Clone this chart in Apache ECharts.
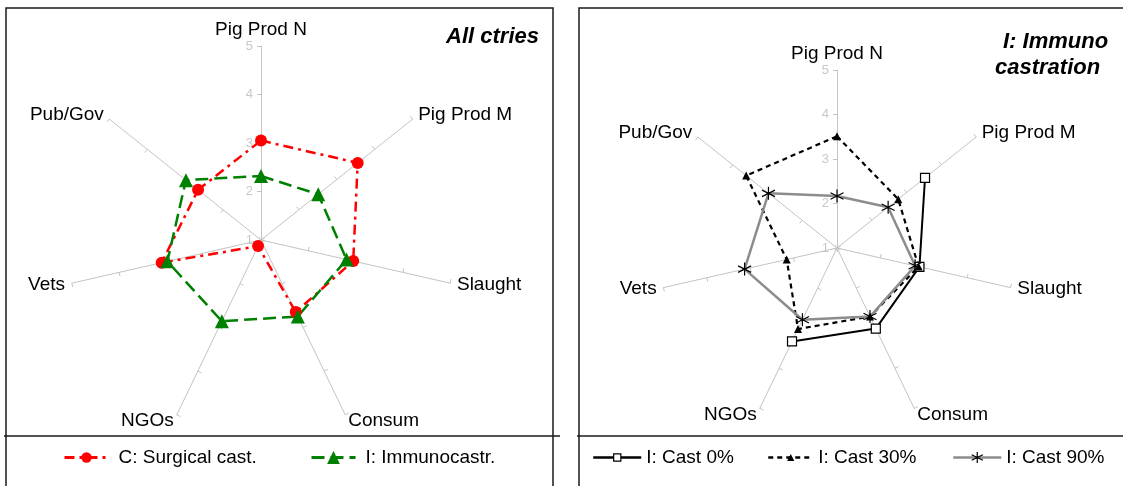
<!DOCTYPE html>
<html>
<head>
<meta charset="utf-8">
<script src="https://cdn.jsdelivr.net/npm/echarts@6/dist/echarts.min.js"></script>
<style>
  html, body { margin: 0; padding: 0; background: #fff; }
  #chart { width: 1123px; height: 486px; }
</style>
</head>
<body>
<div id="chart"></div>
<script>
// Stakeholder groups, clockwise from the top
const axisNames = ['Pig Prod N', 'Pig Prod M', 'Slaught', 'Consum', 'NGOs', 'Vets', 'Pub/Gov'];
// Score scale shown on the first spoke
const scaleTicks = [1, 2, 3, 4, 5];

// All countries
const surgicalCast = [3.05, 3.55, 2.95, 2.65, 1.14, 3.10, 2.66];
const immunoCastr  = [2.32, 2.51, 2.81, 2.75, 2.86, 2.98, 2.98];

// Immunocastration scenarios (null = no score)
const cast0  = [null, 3.53, 2.90, 3.01, 3.33, null, null];
const cast30 = [3.51, 2.76, 2.88, 2.71, 3.02, 2.16, 3.61];
const cast90 = [2.17, 2.47, 2.80, 2.71, 2.79, 3.13, 2.97];

const FONT = '"Liberation Sans", Arial, Helvetica, sans-serif';
const N = axisNames.length;
const STEP = 360 / N;
const MIN = scaleTicks[0];
const MAX = scaleTicks[scaleTicks.length - 1];
const ASTERISK = 'path://M5,0L5,10M0.67,2.5L9.33,7.5M0.67,7.5L9.33,2.5';

const panels = [
  { center: [261, 240], radius: 194 },
  { center: [837, 248], radius: 178 }
];

// Radar places indicators counter-clockwise, so list them in reverse after the first one
function radarCfg(p) {
  const order = axisNames.map((_, k) => (N - k) % N);
  return {
    center: p.center,
    radius: p.radius,
    startAngle: 90,
    splitNumber: scaleTicks.length - 1,
    indicator: order.map((i, k) => ({
      name: axisNames[i], min: MIN, max: MAX,
      axisLabel: { show: k === 0 }
    })),
    axisName: { color: '#000', fontSize: 19, fontFamily: FONT },
    nameGap: 7,
    axisLine: { lineStyle: { color: '#c4c4c4', width: 1 } },
    axisTick: { show: true, length: 4, lineStyle: { color: '#c4c4c4', width: 1 } },
    axisLabel: { show: false, color: '#c8c8c8', fontSize: 13, fontFamily: FONT, margin: 8 },
    splitLine: { show: false },
    splitArea: { show: false }
  };
}

// Polar system laid over each radar so the score lines can be open where scores are missing
function angleAxisCfg(idx) {
  return {
    polarIndex: idx, type: 'value', min: 0, max: 360, startAngle: 90, clockwise: true,
    show: false, axisLine: { show: false }, axisTick: { show: false },
    axisLabel: { show: false }, splitLine: { show: false }
  };
}
function radiusAxisCfg(idx) {
  return {
    polarIndex: idx, type: 'value', min: MIN, max: MAX,
    show: false, axisLine: { show: false }, axisTick: { show: false },
    axisLabel: { show: false }, splitLine: { show: false }
  };
}

function scoreLine(name, values, polarIndex, style) {
  const data = [];
  for (let i = 0; i <= N; i++) {
    const v = values[i % N];
    const item = { value: [v == null ? '-' : v, i * STEP] };
    if (i === N) item.symbol = 'none';
    data.push(item);
  }
  return Object.assign({
    type: 'line', name, coordinateSystem: 'polar', polarIndex,
    data, connectNulls: false, smooth: false, animation: false
  }, style);
}

function legendAt(name, left, itemWidth, itemHeight, textPad, borderWidth, lineWidth) {
  return {
    data: [name], left, top: 448, orient: 'horizontal',
    itemWidth, itemHeight, padding: 0, itemGap: 0, selectedMode: false,
    itemStyle: { borderWidth },
    lineStyle: { width: lineWidth },
    textStyle: { fontSize: 19, fontFamily: FONT, color: '#000', padding: [0, 0, 0, textPad] }
  };
}

const chart = echarts.init(document.getElementById('chart'), null, { renderer: 'canvas' });

chart.setOption({
  animation: false,
  backgroundColor: '#fff',
  radar: panels.map(radarCfg),
  polar: panels.map(p => ({ center: p.center, radius: p.radius })),
  angleAxis: [angleAxisCfg(0), angleAxisCfg(1)],
  radiusAxis: [radiusAxisCfg(0), radiusAxisCfg(1)],
  legend: [
    legendAt('C: Surgical cast.', 63, 44, 13, 5, 0, 3),
    legendAt('I: Immunocastr.', 310, 44, 16, 5, 0, 3),
    legendAt('I: Cast 0%', 592, 48, 9, 0, 1.2, 2.5),
    legendAt('I: Cast 30%', 767, 45, 9, 0, 0, 2.5),
    legendAt('I: Cast 90%', 952, 48, 14, 0, 1.2, 2.5)
  ],
  series: [
    scoreLine('C: Surgical cast.', surgicalCast, 0, {
      symbol: 'circle', symbolSize: 12,
      itemStyle: { color: '#ff0000' },
      lineStyle: { color: '#ff0000', width: 2.5, type: [10, 5, 3, 5] }
    }),
    scoreLine('I: Immunocastr.', immunoCastr, 0, {
      symbol: 'triangle', symbolSize: 14,
      itemStyle: { color: '#008000' },
      lineStyle: { color: '#008000', width: 2.5, type: [13, 6] }
    }),
    scoreLine('I: Cast 0%', cast0, 1, {
      symbol: 'rect', symbolSize: 9,
      itemStyle: { color: '#ffffff', borderColor: '#000', borderWidth: 1.2 },
      lineStyle: { color: '#000', width: 2 }
    }),
    scoreLine('I: Cast 30%', cast30, 1, {
      symbol: 'triangle', symbolSize: 8,
      itemStyle: { color: '#000' },
      lineStyle: { color: '#000', width: 2.2, type: [5, 4] }
    }),
    scoreLine('I: Cast 90%', cast90, 1, {
      symbol: ASTERISK, symbolSize: 13,
      itemStyle: { color: '#000', borderColor: '#000', borderWidth: 1.2 },
      lineStyle: { color: '#8c8c8c', width: 2.5 }
    })
  ],
  graphic: [
    { type: 'rect', silent: true, z: -10, shape: { x: 6, y: 8, width: 547, height: 490 },
      style: { fill: 'none', stroke: '#1a1a1a', lineWidth: 1.5 } },
    { type: 'line', silent: true, z: -10, shape: { x1: 4, y1: 436, x2: 560, y2: 436 },
      style: { stroke: '#1a1a1a', lineWidth: 1.5 } },
    { type: 'rect', silent: true, z: -10, shape: { x: 579, y: 8, width: 600, height: 490 },
      style: { fill: 'none', stroke: '#1a1a1a', lineWidth: 1.5 } },
    { type: 'line', silent: true, z: -10, shape: { x1: 577, y1: 436, x2: 1123, y2: 436 },
      style: { stroke: '#1a1a1a', lineWidth: 1.5 } },
    { type: 'text', silent: true, x: 539, y: 37,
      style: { text: 'All ctries', align: 'right', verticalAlign: 'middle',
               fontSize: 22, fontWeight: 'bold', fontStyle: 'italic', fontFamily: FONT, fill: '#000' } },
    { type: 'text', silent: true, x: 1003, y: 42,
      style: { text: 'I: Immuno', align: 'left', verticalAlign: 'middle',
               fontSize: 22, fontWeight: 'bold', fontStyle: 'italic', fontFamily: FONT, fill: '#000' } },
    { type: 'text', silent: true, x: 995, y: 68,
      style: { text: 'castration', align: 'left', verticalAlign: 'middle',
               fontSize: 22, fontWeight: 'bold', fontStyle: 'italic', fontFamily: FONT, fill: '#000' } }
  ]
});
</script>
</body>
</html>
